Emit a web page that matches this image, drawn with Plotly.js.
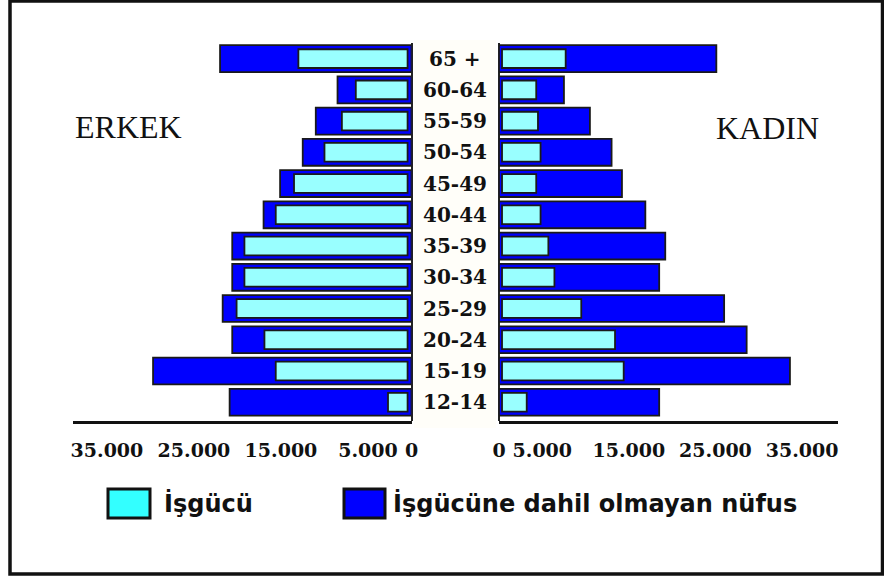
<!DOCTYPE html>
<html>
<head>
<meta charset="utf-8">
<script src="https://cdn.plot.ly/plotly-3.0.1.min.js"></script>
<style>html,body{margin:0;padding:0;background:#fff;}#chart{width:884px;height:577px;}</style>
</head>
<body>
<div id="chart"></div>
<script>
// Age groups, bottom to top
const ages = ["12-14","15-19","20-24","25-29","30-34","35-39","40-44","45-49","50-54","55-59","60-64","65 +"];

// ERKEK (men)
const isgucuErkek   = [2700, 15600, 16900, 20100, 19200, 19200, 15600, 13500, 10000, 8000, 6400, 13000];
const olmayanErkek  = [18200, 14100, 3700, 1600, 1400, 1400, 1400, 1600, 2500, 3000, 2100, 9000];

// KADIN (women)
const isgucuKadin   = [3200, 14400, 13400, 9500, 6400, 5700, 4800, 4300, 4800, 4500, 4300, 7700];
const olmayanKadin  = [15300, 19200, 15200, 16500, 12100, 13500, 12100, 9900, 8200, 6000, 3200, 17400];

const tickVals = [0, 5000, 15000, 25000, 35000];
const tickText = ["0", "5.000", "15.000", "25.000", "35.000"];

const legendLabels = ["İşgücü", "İşgücüne dahil olmayan nüfus"];
const sideLabels = ["ERKEK", "KADIN"];

const BLUE = "#0000FF", CYAN = "#99FFFF", EDGE = "#1a1a1a";
const INSET_L = 450, INSET_R = 350;

const totalErkek = isgucuErkek.map((v, i) => v + olmayanErkek[i]);
const totalKadin = isgucuKadin.map((v, i) => v + olmayanKadin[i]);

const traces = [
  {type: "bar", orientation: "h", y: ages, x: totalErkek, xaxis: "x", yaxis: "y",
   width: 0.86, marker: {color: BLUE, line: {color: EDGE, width: 1.8}}, name: legendLabels[1], showlegend: false},
  {type: "bar", orientation: "h", y: ages, x: isgucuErkek.map(v => v - INSET_L), base: INSET_L, xaxis: "x", yaxis: "y",
   width: 0.6, marker: {color: CYAN, line: {color: EDGE, width: 1.8}}, name: legendLabels[0], showlegend: false},
  {type: "bar", orientation: "h", y: ages, x: totalKadin, xaxis: "x2", yaxis: "y",
   width: 0.86, marker: {color: BLUE, line: {color: EDGE, width: 1.8}}, name: legendLabels[1], showlegend: false},
  {type: "bar", orientation: "h", y: ages, x: isgucuKadin.map(v => v - INSET_R), base: INSET_R, xaxis: "x2", yaxis: "y",
   width: 0.6, marker: {color: CYAN, line: {color: EDGE, width: 1.8}}, name: legendLabels[0], showlegend: false}
];

const W = 884, H = 577;
const px = x => x / W, py = y => 1 - y / H;

const tickFont = {family: "DejaVu Serif", size: 19, color: "#111", weight: "bold"};
const xCommon = {
  showgrid: false, zeroline: true, zerolinecolor: "#222", zerolinewidth: 2,
  showline: true, linecolor: "#111", linewidth: 3,
  tickmode: "array", tickvals: tickVals, ticktext: tickText,
  ticks: "outside", ticklen: 10, tickcolor: "rgba(0,0,0,0)",
  tickfont: tickFont, fixedrange: true
};

const annotations = ages.map(a => ({
  xref: "paper", yref: "y", x: px(455), y: a, text: "<b>" + a + "</b>", showarrow: false,
  xanchor: "center", yanchor: "middle",
  font: {family: "DejaVu Serif", size: 20, color: "#111"}
}));
annotations.push(
  {xref: "paper", yref: "paper", x: px(128.5), y: py(127), text: sideLabels[0], showarrow: false,
   xanchor: "center", yanchor: "middle", font: {family: "Liberation Serif", size: 32, color: "#111"}},
  {xref: "paper", yref: "paper", x: px(767), y: py(128), text: sideLabels[1], showarrow: false,
   xanchor: "center", yanchor: "middle", font: {family: "Liberation Serif", size: 32, color: "#111"}},
  {xref: "paper", yref: "paper", x: px(162), y: py(503), text: "<b>" + legendLabels[0] + "</b>", showarrow: false,
   xanchor: "left", yanchor: "middle", font: {family: "DejaVu Sans", size: 24, color: "#111"}},
  {xref: "paper", yref: "paper", x: px(391), y: py(503), text: "<b>" + legendLabels[1] + "</b>", showarrow: false,
   xanchor: "left", yanchor: "middle", font: {family: "DejaVu Sans", size: 24, color: "#111"}}
);

const shapes = [
  {type: "rect", xref: "paper", yref: "paper", x0: px(414), x1: px(496), y0: py(428), y1: py(40),
   fillcolor: "#fffef9", line: {width: 0}, layer: "below"},
  {type: "rect", xref: "paper", yref: "paper", x0: px(108), x1: px(150), y0: py(518), y1: py(489),
   fillcolor: "#33FFFF", line: {color: "#111", width: 3}},
  {type: "rect", xref: "paper", yref: "paper", x0: px(344), x1: px(385), y0: py(518), y1: py(489),
   fillcolor: BLUE, line: {color: "#111", width: 3}},
  {type: "rect", xref: "paper", yref: "paper", x0: px(10), x1: px(882.5), y0: py(574), y1: py(1),
   fillcolor: "rgba(0,0,0,0)", line: {color: "#111", width: 3.5}}
];

const layout = {
  width: W, height: H,
  margin: {l: 0, r: 0, t: 0, b: 0, pad: 0},
  paper_bgcolor: "#ffffff", plot_bgcolor: "rgba(0,0,0,0)",
  barmode: "overlay", showlegend: false, hovermode: false,
  xaxis: Object.assign({}, xCommon, {domain: [px(73), px(411.5)], range: [38900, 0], anchor: "y"}),
  xaxis2: Object.assign({}, xCommon, {domain: [px(499), px(838)], range: [0, 39150], anchor: "y"}),
  yaxis: {type: "category", categoryorder: "array", categoryarray: ages, range: [-0.6, 11.5],
          domain: [py(421), py(43)], showticklabels: false, showgrid: false, zeroline: false,
          showline: false, ticks: "", fixedrange: true, anchor: "x"},
  annotations: annotations,
  shapes: shapes
};

Plotly.newPlot("chart", traces, layout, {staticPlot: true, displayModeBar: false});
</script>
</body>
</html>
